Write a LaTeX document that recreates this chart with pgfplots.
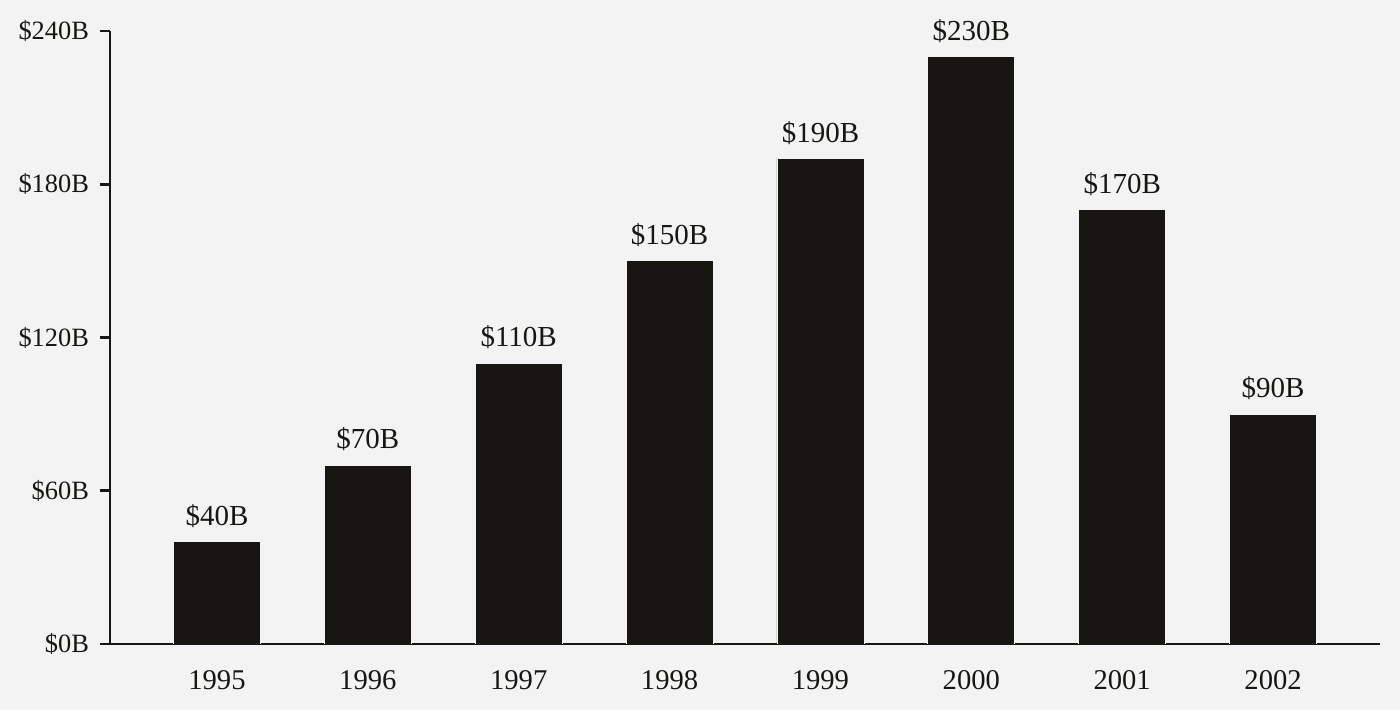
\documentclass[border=0pt]{standalone}
\usepackage{fontspec}
\setmainfont{Liberation Serif}
\usepackage{pgfplots}
\pgfplotsset{compat=1.18}
\definecolor{bg}{HTML}{F3F3F3}
\definecolor{ink}{HTML}{171612}

\begin{document}
\begin{tikzpicture}
  % background: 1px = 0.5pt, page 1400x710 px
  \fill[bg] (-55pt,-33pt) rectangle (645pt,322pt);
  \begin{axis}[
    at={(0,0)}, anchor=south west,
    scale only axis,
    width=635pt, height=306.5pt,
    xmin=-0.709, xmax=7.709,
    ymin=0, ymax=240,
    axis x line*=bottom,
    axis y line*=left,
    axis line style={ink, line width=1.4pt},
    /pgf/number format/assume math mode=true,
    xtick={0,...,7},
    xticklabels={1995,1996,1997,1998,1999,2000,2001,2002},
    x tick style={draw=none},
    ytick={0,60,120,180,240},
    yticklabels={\$0B,\$60B,\$120B,\$180B,\$240B},
    y tick style={ink, line width=1.4pt},
    tick align=outside,
    major tick length=5pt,
    xticklabel style={font=\fontsize{14.3}{17}\selectfont, text=ink, yshift=-4.5pt},
    yticklabel style={font=\fontsize{13.2}{16}\selectfont, text=ink, xshift=-2pt},
    ybar,
    bar width=43.5pt,
    nodes near coords={\$\pgfmathprintnumber{\pgfplotspointmeta}B},
    nodes near coords style={font=\fontsize{14.5}{17}\selectfont, text=ink, anchor=south, yshift=3.5pt},
  ]
    \addplot[fill=ink, draw=bg, line width=0.4pt] coordinates {
      (0,40) (1,70) (2,110) (3,150) (4,190) (5,230) (6,170) (7,90)
    };
  \end{axis}
\end{tikzpicture}
\end{document}
